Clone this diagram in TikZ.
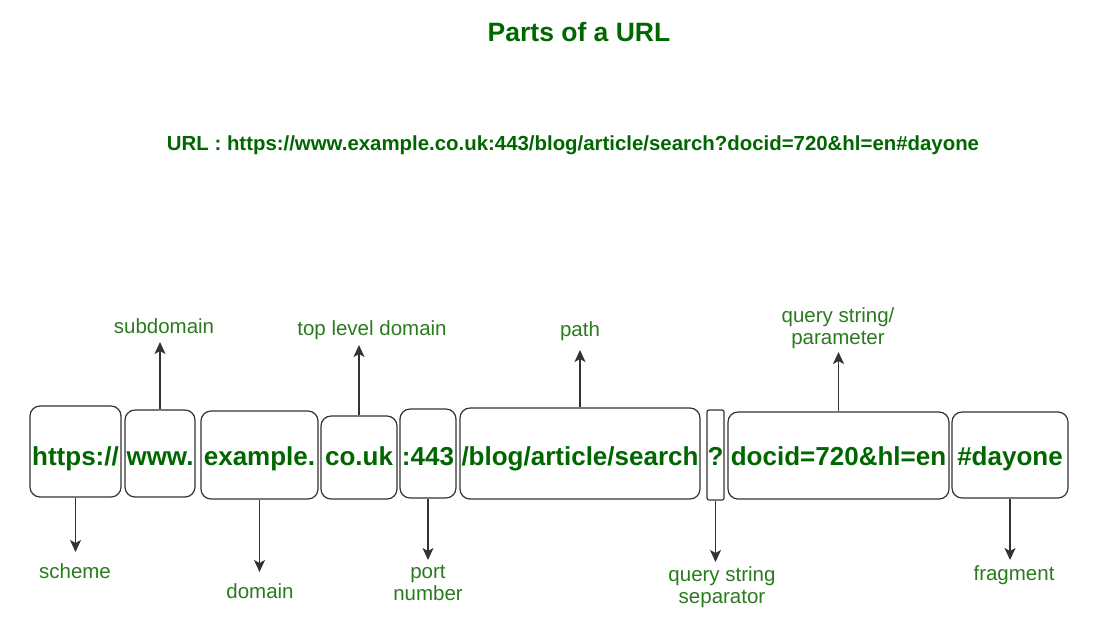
\documentclass[tikz,border=0pt]{standalone}
\usepackage{fontspec}
\setmainfont{Liberation Sans}
\usetikzlibrary{arrows.meta}
\definecolor{dgreen}{HTML}{006600}
\definecolor{lgreen}{HTML}{2A7A1E}
\definecolor{edge}{HTML}{333333}
\begin{document}
\begin{tikzpicture}[x=1pt,y=-1pt,
  part/.style={draw=edge, line width=1.2pt, rounded corners=10pt, inner sep=0pt,
    text=dgreen, font=\fontsize{26}{30}\selectfont\bfseries, text depth=0pt},
  basel/.style={text height=#1},
  lab/.style={text=lgreen, font=\fontsize{20.5}{22.5}\selectfont, align=center, inner sep=0pt},
  arr/.style={draw=edge, line width=1.3pt, -{Stealth[length=12pt,width=11pt,inset=3pt]}}]
\useasboundingbox (0,0) rectangle (1102,638);
\node[text=dgreen, font=\fontsize{26.5}{30}\selectfont\bfseries] (title) at (579,32) {Parts of a URL};
\node[text=dgreen, font=\fontsize{20.4}{24}\selectfont\bfseries] (url) at (573,145) {URL : https://www.example.co.uk:443/blog/article/search?docid=720\&hl=en\#dayone};

\node[part, basel=27pt, minimum width=91pt, minimum height=91pt] (sch) at (75.5,451.5) {https://};
\node[part, basel=23pt, minimum width=70pt, minimum height=87pt] (sub) at (160,453.5) {www.};
\node[part, basel=20pt, minimum width=117pt, minimum height=88pt] (dom) at (259.5,455) {example.};
\node[part, basel=15pt, minimum width=76pt, minimum height=83pt] (tld) at (359,457.5) {co.uk};
\node[part, basel=23pt, minimum width=56pt, minimum height=89pt] (port) at (428,453.5) {:443};
\node[part, basel=23pt, minimum width=240pt, minimum height=91pt] (path) at (580,453.5) {/blog/article/search};
\node[part, basel=20pt, minimum width=17pt, minimum height=90pt, rounded corners=2pt] (qm) at (715.5,455) {?};
\node[part, basel=19pt, minimum width=221pt, minimum height=87pt] (qs) at (838.5,455.5) {docid=720\&hl=en};
\node[part, basel=20pt, minimum width=116pt, minimum height=86pt] (frag) at (1010,455) {\#dayone};

\node[lab, anchor=north] (lsch) at (75,563) {scheme};
\node[lab, anchor=south] (lsub) at (164,334) {subdomain};
\node[lab, anchor=north] (ldom) at (260,583) {domain};
\node[lab, anchor=south] (ltld) at (372,340) {top level domain};
\node[lab, anchor=north] (lport) at (428,565) {port\\number};
\node[lab, anchor=south] (lpath) at (580,341) {path};
\node[lab, anchor=north] (lqm) at (722,566) {query string\\separator};
\node[lab, anchor=south] (lqs) at (838,349) {query string/\\parameter};
\node[lab, anchor=north] (lfrag) at (1014,565) {fragment};

\draw[arr, shorten >=11pt] (sch.south) -- (sch.south |- lsch.north);
\draw[arr, shorten >=8pt] (sub.north) -- (sub.north |- lsub.south);
\draw[arr, shorten >=11pt] (dom.south) -- (dom.south |- ldom.north);
\draw[arr, shorten >=5pt] (tld.north) -- (tld.north |- ltld.south);
\draw[arr, shorten >=5pt] (port.south) -- (port.south |- lport.north);
\draw[arr, shorten >=9pt] (path.north) -- (path.north |- lpath.south);
\draw[arr, shorten >=4pt] (qm.south) -- (qm.south |- lqm.north);
\draw[arr, shorten >=3pt] (qs.north) -- (qs.north |- lqs.south);
\draw[arr, shorten >=5pt] (frag.south) -- (frag.south |- lfrag.north);
\end{tikzpicture}
\end{document}
